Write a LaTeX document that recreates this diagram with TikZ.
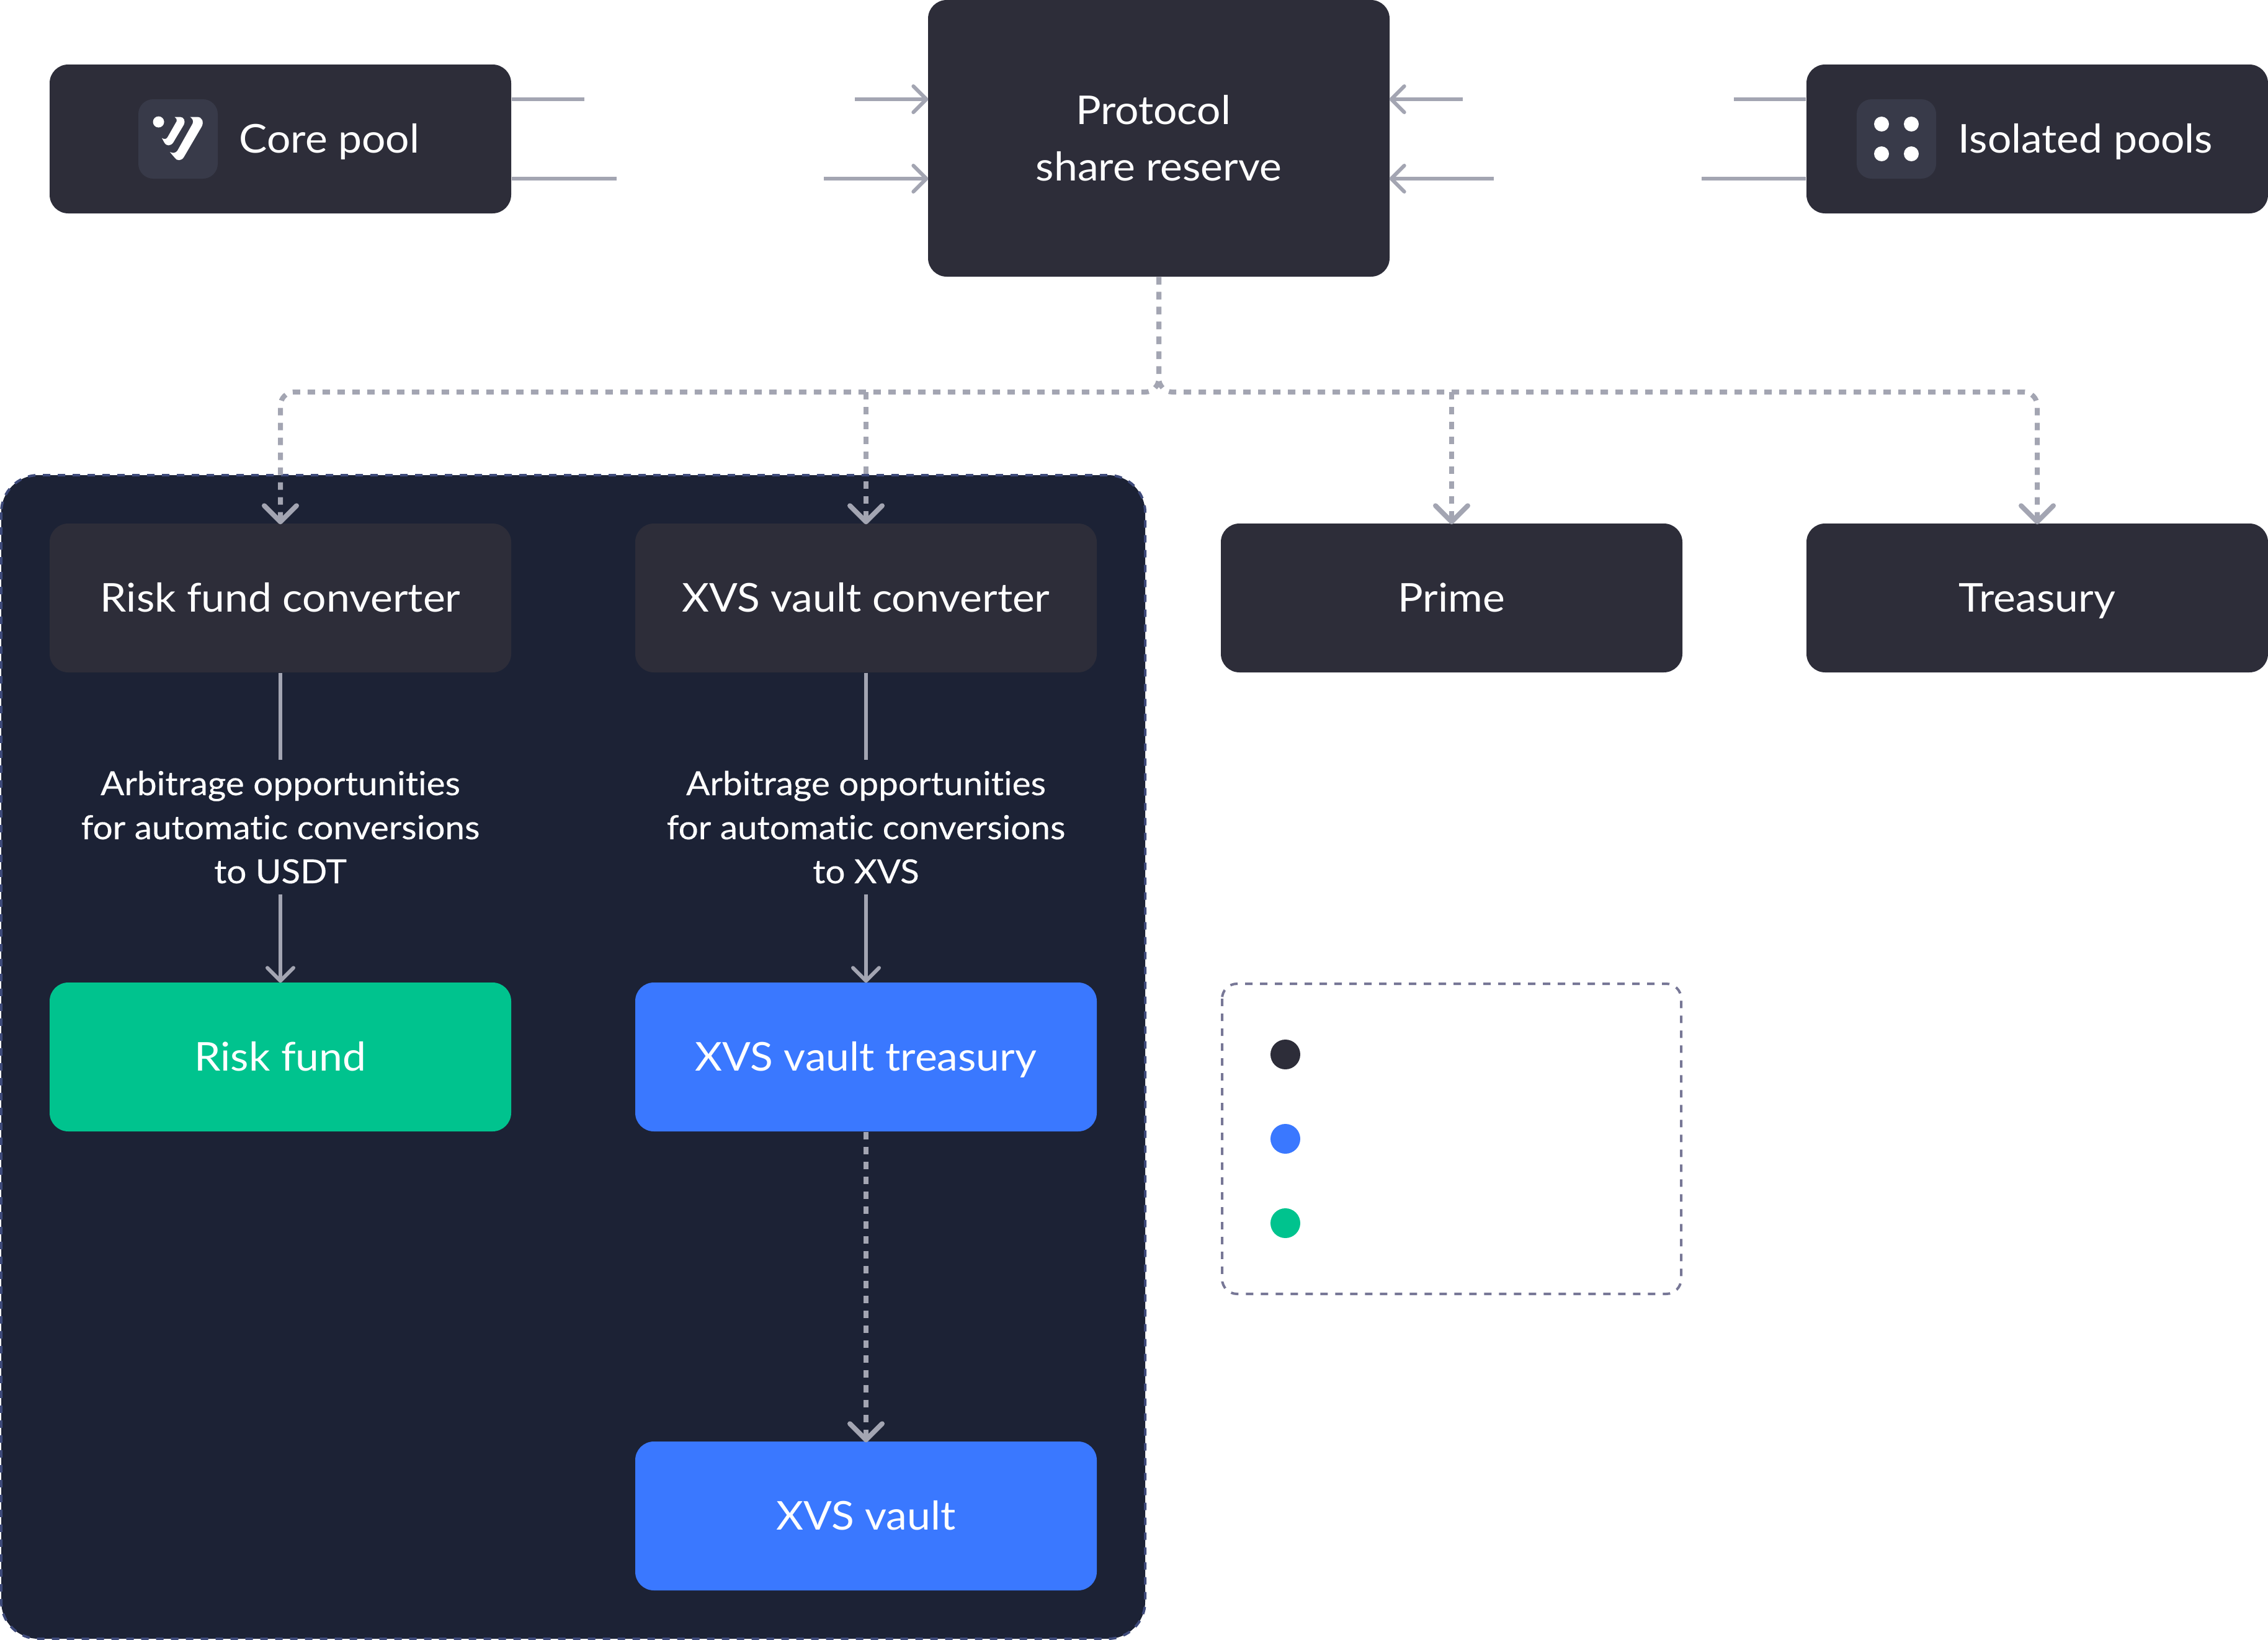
\documentclass[tikz,border=0pt]{standalone}
\usepackage{fontspec}
\setmainfont{Lato}[FakeStretch=1.06,Ligatures=CommonOff]
\newfontfamily\labelfont{Lato}[FakeStretch=1.06,FakeBold=0.25,Ligatures=CommonOff]
\usepackage{xcolor}
\usetikzlibrary{arrows.meta,positioning}
\definecolor{boxdark}{RGB}{45,45,57}
\definecolor{iconbg}{RGB}{56,58,73}
\definecolor{panelnavy}{RGB}{28,34,53}
\definecolor{paneledge}{RGB}{62,74,122}
\definecolor{legendedge}{RGB}{119,119,150}
\definecolor{vaultblue}{RGB}{58,120,255}
\definecolor{fundgreen}{RGB}{0,195,142}
\definecolor{linegray}{RGB}{163,165,178}

\begin{document}
\begin{tikzpicture}[
    block/.style={rectangle,rounded corners=0.3cm,fill=boxdark,text=white,inner sep=0pt,
      minimum width=7.44cm,minimum height=2.4cm,align=center,font=\fontsize{18.2}{25.9}\selectfont},
    oneline/.style={block,text height=0.6cm,text depth=0.16cm},
    blueblock/.style={oneline,fill=vaultblue},
    greenblock/.style={oneline,fill=fundgreen},
    iconbox/.style={rectangle,rounded corners=0.24cm,fill=iconbg,inner sep=0pt,minimum size=1.28cm},
    pooltext/.style={text=white,inner sep=0pt,anchor=west,text height=0.6cm,text depth=0.16cm,
      font=\fontsize{18.2}{25.9}\selectfont},
    arblabel/.style={text=white,inner sep=0pt,align=center,minimum height=2.15cm,
      font=\labelfont\fontsize{15.2}{20.2}\selectfont},
    icondot/.style={circle,fill=white,inner sep=0pt,minimum size=0.24cm},
    legenddot/.style={circle,inner sep=0pt,minimum size=0.48cm},
    stubline/.style={line width=0.06cm,draw=linegray},
    solidarrow/.style={line width=0.06cm,draw=linegray,shorten >=-0.01cm,
      -{Straight Barb[length=2.1mm,width=4.2mm,round]}},
    busline/.style={line width=0.08cm,draw=linegray,dash pattern=on 0.12cm off 0.12cm,rounded corners=0.22cm},
    busarrow/.style={busline,shorten >=-0.02cm,-{Straight Barb[length=2.6mm,width=5.2mm,round]}}
  ]
    \useasboundingbox (0,0) rectangle (36.56,-26.44);

    \draw[fill=panelnavy,draw=paneledge,line width=0.04cm,dash pattern=on 0.12cm off 0.12cm,rounded corners=0.6cm]
      (0.02,-7.66) rectangle (18.46,-26.42);

    \node[block] (corepool) at (4.52,-2.24) {};
    \node[iconbox] (coreicon) at (2.87,-2.24) {};
    \node[pooltext] (coretext) at (3.85,-2.24) {Core pool};
    \node[block,minimum height=4.46cm] (protocol) at (18.68,-2.23) {Protocol\hspace*{0.18cm}\\share reserve};
    \node[block] (isolated) at (32.84,-2.24) {};
    \node[iconbox] (isoicon) at (30.57,-2.24) {};
    \node[pooltext] (isotext) at (31.56,-2.24) {Isolated pools};
    \node[icondot] (isodota) at (30.33,-2.00) {};
    \node[icondot] (isodotb) at (30.81,-2.00) {};
    \node[icondot] (isodotc) at (30.33,-2.48) {};
    \node[icondot] (isodotd) at (30.81,-2.48) {};

    \begin{scope}[shift={(2.20,-1.56)},x=0.003333cm,y=-0.003333cm]
      \fill[white] (107,122) circle (27);
      \fill[white] (185,98) -- (212,98) .. controls (230,98) and (238,118) .. (230,135)
        -- (178,222) .. controls (165,240) and (145,240) .. (135,222) -- (123,200)
        .. controls (135,208) and (145,205) .. (150,197) -- (195,118)
        .. controls (198,110) and (192,103) .. (185,98) -- cycle;
      \fill[white] (260,98) -- (295,98) .. controls (318,98) and (328,122) .. (316,145)
        -- (230,292) .. controls (218,312) and (195,312) .. (185,295) -- (162,268)
        .. controls (178,275) and (190,272) .. (198,262) -- (272,130)
        .. controls (278,115) and (270,105) .. (260,98) -- cycle;
    \end{scope}

    \node[oneline] (riskconv) at (4.52,-9.64) {Risk fund converter};
    \node[oneline] (xvsconv) at (13.96,-9.64) {XVS vault converter};
    \node[oneline] (prime) at (23.40,-9.64) {Prime};
    \node[oneline] (treasury) at (32.84,-9.64) {Treasury};

    \node[arblabel] (risklabel) at (4.52,-13.335) {Arbitrage opportunities\\for automatic conversions\\to USDT};
    \node[arblabel] (xvslabel) at (13.96,-13.335) {Arbitrage opportunities\\for automatic conversions\\to XVS};

    \node[greenblock] (riskfund) at (4.52,-17.04) {Risk fund};
    \node[blueblock] (vaulttreasury) at (13.96,-17.04) {XVS vault treasury};
    \node[blueblock] (vault) at (13.96,-24.44) {XVS vault};

    \draw[draw=legendedge,line width=0.04cm,dash pattern=on 0.12cm off 0.12cm,rounded corners=0.24cm]
      (19.70,-15.86) rectangle (27.10,-20.86);
    \node[legenddot,fill=boxdark] (legenddark) at (20.72,-17.00) {};
    \node[legenddot,fill=vaultblue] (legendblue) at (20.72,-18.36) {};
    \node[legenddot,fill=fundgreen] (legendgreen) at (20.72,-19.72) {};

    \coordinate (corestubup) at (9.42,-1.60);
    \coordinate (corestubdown) at (9.94,-2.88);
    \coordinate (protoinup) at (13.78,-1.60);
    \coordinate (protoindown) at (13.28,-2.88);
    \coordinate (protoinupr) at (23.58,-1.60);
    \coordinate (protoindownr) at (24.08,-2.88);
    \coordinate (isostubup) at (27.95,-1.60);
    \coordinate (isostubdown) at (27.43,-2.88);
    \coordinate (busjoin) at (18.68,-6.32);

    \draw[stubline] (corestubup -| corepool.east) -- (corestubup);
    \draw[stubline] (corestubdown -| corepool.east) -- (corestubdown);
    \draw[solidarrow] (protoinup) -- (protoinup -| protocol.west);
    \draw[solidarrow] (protoindown) -- (protoindown -| protocol.west);
    \draw[solidarrow] (protoinupr) -- (protoinupr -| protocol.east);
    \draw[solidarrow] (protoindownr) -- (protoindownr -| protocol.east);
    \draw[stubline] (isostubup -| isolated.west) -- (isostubup);
    \draw[stubline] (isostubdown -| isolated.west) -- (isostubdown);

    \draw[busarrow] (protocol.south) -- (busjoin) -- (busjoin -| riskconv.north) -- (riskconv.north);
    \draw[busarrow] (protocol.south) -- (busjoin) -- (busjoin -| treasury.north) -- (treasury.north);
    \draw[busarrow] (busjoin -| xvsconv.north) -- (xvsconv.north);
    \draw[busarrow] (busjoin -| prime.north) -- (prime.north);

    \draw[stubline] (riskconv) -- (risklabel);
    \draw[solidarrow] (risklabel) -- (riskfund);
    \draw[stubline] (xvsconv) -- (xvslabel);
    \draw[solidarrow] (xvslabel) -- (vaulttreasury);
    \draw[busarrow] (vaulttreasury) -- (vault);
  \end{tikzpicture}
\end{document}
